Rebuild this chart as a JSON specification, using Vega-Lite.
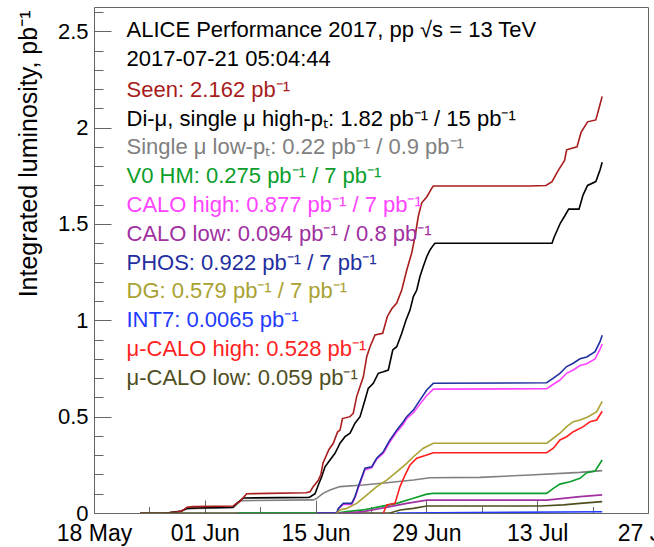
{
  "$schema": "https://vega.github.io/schema/vega-lite/v6.json",
  "width": 554,
  "height": 506,
  "autosize": "none",
  "padding": {"left": 94, "top": 7, "right": 6, "bottom": 34},
  "background": "white",
  "config": {
    "font": "Liberation Sans",
    "view": {"stroke": "#666666", "strokeWidth": 1},
    "axis": {"grid": false, "domain": false, "tickColor": "#666666", "tickWidth": 1, "labelFont": "Liberation Sans", "labelColor": "black", "titleFont": "Liberation Sans", "titleColor": "black", "titleFontWeight": "normal"}
  },
  "data": {"values": [
    {"s":"smu","t":"2017-05-27T04:30Z","v":0},
    {"s":"smu","t":"2017-05-29T02:00Z","v":0.01},
    {"s":"smu","t":"2017-05-29T18:00Z","v":0.022},
    {"s":"smu","t":"2017-05-30T23:30Z","v":0.024},
    {"s":"smu","t":"2017-06-04T13:30Z","v":0.028},
    {"s":"smu","t":"2017-06-05T00:45Z","v":0.045},
    {"s":"smu","t":"2017-06-05T13:45Z","v":0.064},
    {"s":"smu","t":"2017-06-14T17:00Z","v":0.068},
    {"s":"smu","t":"2017-06-15T03:30Z","v":0.076},
    {"s":"smu","t":"2017-06-15T22:30Z","v":0.102},
    {"s":"smu","t":"2017-06-16T19:45Z","v":0.119},
    {"s":"smu","t":"2017-06-18T02:00Z","v":0.137},
    {"s":"smu","t":"2017-06-21T00:45Z","v":0.145},
    {"s":"smu","t":"2017-06-23T23:45Z","v":0.157},
    {"s":"smu","t":"2017-06-27T08:30Z","v":0.171},
    {"s":"smu","t":"2017-06-29T11:00Z","v":0.183},
    {"s":"smu","t":"2017-07-05T18:30Z","v":0.185},
    {"s":"smu","t":"2017-07-12T02:15Z","v":0.197},
    {"s":"smu","t":"2017-07-18T09:45Z","v":0.211},
    {"s":"smu","t":"2017-07-21T05:04Z","v":0.22},

    {"s":"dimu","t":"2017-05-27T04:30Z","v":0},
    {"s":"dimu","t":"2017-05-29T02:00Z","v":0.01},
    {"s":"dimu","t":"2017-05-29T18:00Z","v":0.024},
    {"s":"dimu","t":"2017-05-30T23:30Z","v":0.026},
    {"s":"dimu","t":"2017-06-04T13:30Z","v":0.03},
    {"s":"dimu","t":"2017-06-05T00:45Z","v":0.05},
    {"s":"dimu","t":"2017-06-05T21:00Z","v":0.078},
    {"s":"dimu","t":"2017-06-14T02:00Z","v":0.081},
    {"s":"dimu","t":"2017-06-14T07:00Z","v":0.083},
    {"s":"dimu","t":"2017-06-14T22:15Z","v":0.1},
    {"s":"dimu","t":"2017-06-15T08:15Z","v":0.145},
    {"s":"dimu","t":"2017-06-15T18:30Z","v":0.188},
    {"s":"dimu","t":"2017-06-16T04:30Z","v":0.24},
    {"s":"dimu","t":"2017-06-16T19:45Z","v":0.275},
    {"s":"dimu","t":"2017-06-17T10:45Z","v":0.31},
    {"s":"dimu","t":"2017-06-17T16:00Z","v":0.327},
    {"s":"dimu","t":"2017-06-18T02:00Z","v":0.362},
    {"s":"dimu","t":"2017-06-18T17:15Z","v":0.396},
    {"s":"dimu","t":"2017-06-19T08:30Z","v":0.414},
    {"s":"dimu","t":"2017-06-19T23:30Z","v":0.466},
    {"s":"dimu","t":"2017-06-20T14:45Z","v":0.5},
    {"s":"dimu","t":"2017-06-21T05:45Z","v":0.586},
    {"s":"dimu","t":"2017-06-21T15:45Z","v":0.647},
    {"s":"dimu","t":"2017-06-22T07:00Z","v":0.673},
    {"s":"dimu","t":"2017-06-22T22:00Z","v":0.725},
    {"s":"dimu","t":"2017-06-23T13:30Z","v":0.733},
    {"s":"dimu","t":"2017-06-24T04:30Z","v":0.742},
    {"s":"dimu","t":"2017-06-24T18:00Z","v":0.846},
    {"s":"dimu","t":"2017-06-25T06:00Z","v":0.863},
    {"s":"dimu","t":"2017-06-25T21:15Z","v":0.933},
    {"s":"dimu","t":"2017-06-26T10:00Z","v":1.0},
    {"s":"dimu","t":"2017-06-26T22:15Z","v":1.053},
    {"s":"dimu","t":"2017-06-27T08:30Z","v":1.123},
    {"s":"dimu","t":"2017-06-27T18:45Z","v":1.157},
    {"s":"dimu","t":"2017-06-28T04:30Z","v":1.227},
    {"s":"dimu","t":"2017-06-28T14:45Z","v":1.28},
    {"s":"dimu","t":"2017-06-29T01:00Z","v":1.33},
    {"s":"dimu","t":"2017-06-29T11:00Z","v":1.365},
    {"s":"dimu","t":"2017-06-29T21:00Z","v":1.39},
    {"s":"dimu","t":"2017-06-30T02:00Z","v":1.4},
    {"s":"dimu","t":"2017-07-14T21:00Z","v":1.4},
    {"s":"dimu","t":"2017-07-15T03:00Z","v":1.43},
    {"s":"dimu","t":"2017-07-15T22:20Z","v":1.505},
    {"s":"dimu","t":"2017-07-16T11:00Z","v":1.54},
    {"s":"dimu","t":"2017-07-16T23:30Z","v":1.577},
    {"s":"dimu","t":"2017-07-18T06:45Z","v":1.577},
    {"s":"dimu","t":"2017-07-18T19:00Z","v":1.65},
    {"s":"dimu","t":"2017-07-19T08:45Z","v":1.7},
    {"s":"dimu","t":"2017-07-20T09:45Z","v":1.72},
    {"s":"dimu","t":"2017-07-20T22:30Z","v":1.78},
    {"s":"dimu","t":"2017-07-21T05:04Z","v":1.82},

    {"s":"seen","t":"2017-05-23T19:30Z","v":0},
    {"s":"seen","t":"2017-05-27T04:30Z","v":0},
    {"s":"seen","t":"2017-05-28T21:00Z","v":0.008},
    {"s":"seen","t":"2017-05-29T06:45Z","v":0.015},
    {"s":"seen","t":"2017-05-29T18:00Z","v":0.03},
    {"s":"seen","t":"2017-05-30T12:15Z","v":0.033},
    {"s":"seen","t":"2017-06-04T13:30Z","v":0.036},
    {"s":"seen","t":"2017-06-05T00:45Z","v":0.05},
    {"s":"seen","t":"2017-06-05T10:45Z","v":0.06},
    {"s":"seen","t":"2017-06-06T07:00Z","v":0.1},
    {"s":"seen","t":"2017-06-13T19:00Z","v":0.105},
    {"s":"seen","t":"2017-06-14T07:00Z","v":0.11},
    {"s":"seen","t":"2017-06-14T16:00Z","v":0.135},
    {"s":"seen","t":"2017-06-15T08:15Z","v":0.17},
    {"s":"seen","t":"2017-06-15T16:00Z","v":0.2},
    {"s":"seen","t":"2017-06-15T22:30Z","v":0.26},
    {"s":"seen","t":"2017-06-16T16:30Z","v":0.33},
    {"s":"seen","t":"2017-06-17T05:45Z","v":0.362},
    {"s":"seen","t":"2017-06-17T18:30Z","v":0.42},
    {"s":"seen","t":"2017-06-18T02:00Z","v":0.43},
    {"s":"seen","t":"2017-06-18T09:30Z","v":0.49},
    {"s":"seen","t":"2017-06-19T08:30Z","v":0.5},
    {"s":"seen","t":"2017-06-19T18:15Z","v":0.518},
    {"s":"seen","t":"2017-06-20T04:30Z","v":0.604},
    {"s":"seen","t":"2017-06-20T14:45Z","v":0.656},
    {"s":"seen","t":"2017-06-21T00:45Z","v":0.707},
    {"s":"seen","t":"2017-06-21T11:00Z","v":0.811},
    {"s":"seen","t":"2017-06-21T21:00Z","v":0.863},
    {"s":"seen","t":"2017-06-22T12:15Z","v":0.924},
    {"s":"seen","t":"2017-06-23T11:30Z","v":0.933},
    {"s":"seen","t":"2017-06-24T01:30Z","v":1.02},
    {"s":"seen","t":"2017-06-24T15:00Z","v":1.06},
    {"s":"seen","t":"2017-06-25T06:00Z","v":1.09},
    {"s":"seen","t":"2017-06-25T21:15Z","v":1.157},
    {"s":"seen","t":"2017-06-26T12:15Z","v":1.26},
    {"s":"seen","t":"2017-06-27T03:30Z","v":1.35},
    {"s":"seen","t":"2017-06-27T13:30Z","v":1.435},
    {"s":"seen","t":"2017-06-27T23:30Z","v":1.54},
    {"s":"seen","t":"2017-06-28T09:45Z","v":1.61},
    {"s":"seen","t":"2017-06-29T01:00Z","v":1.64},
    {"s":"seen","t":"2017-06-29T16:00Z","v":1.685},
    {"s":"seen","t":"2017-06-29T21:00Z","v":1.697},
    {"s":"seen","t":"2017-07-11T23:15Z","v":1.697},
    {"s":"seen","t":"2017-07-14T02:45Z","v":1.7},
    {"s":"seen","t":"2017-07-14T21:00Z","v":1.72},
    {"s":"seen","t":"2017-07-15T15:00Z","v":1.776},
    {"s":"seen","t":"2017-07-16T11:00Z","v":1.83},
    {"s":"seen","t":"2017-07-16T17:15Z","v":1.885},
    {"s":"seen","t":"2017-07-18T00:45Z","v":1.9},
    {"s":"seen","t":"2017-07-18T13:00Z","v":1.975},
    {"s":"seen","t":"2017-07-19T08:45Z","v":2.03},
    {"s":"seen","t":"2017-07-20T09:45Z","v":2.04},
    {"s":"seen","t":"2017-07-20T22:30Z","v":2.12},
    {"s":"seen","t":"2017-07-21T05:04Z","v":2.162},

    {"s":"mucalol","t":"2017-05-23T19:30Z","v":0},
    {"s":"mucalol","t":"2017-06-24T09:30Z","v":0},
    {"s":"mucalol","t":"2017-06-25T16:00Z","v":0.016},
    {"s":"mucalol","t":"2017-06-27T08:30Z","v":0.024},
    {"s":"mucalol","t":"2017-06-29T01:00Z","v":0.036},
    {"s":"mucalol","t":"2017-07-13T08:30Z","v":0.036},
    {"s":"mucalol","t":"2017-07-16T07:15Z","v":0.042},
    {"s":"mucalol","t":"2017-07-18T09:45Z","v":0.05},
    {"s":"mucalol","t":"2017-07-21T05:04Z","v":0.059},

    {"s":"v0hm","t":"2017-06-05T04:45Z","v":0},
    {"s":"v0hm","t":"2017-06-17T16:00Z","v":0},
    {"s":"v0hm","t":"2017-06-18T22:15Z","v":0.007},
    {"s":"v0hm","t":"2017-06-21T00:45Z","v":0.016},
    {"s":"v0hm","t":"2017-06-23T03:15Z","v":0.033},
    {"s":"v0hm","t":"2017-06-25T06:00Z","v":0.05},
    {"s":"v0hm","t":"2017-06-27T08:30Z","v":0.076},
    {"s":"v0hm","t":"2017-06-29T01:00Z","v":0.098},
    {"s":"v0hm","t":"2017-06-29T21:00Z","v":0.102},
    {"s":"v0hm","t":"2017-07-14T04:45Z","v":0.102},
    {"s":"v0hm","t":"2017-07-15T01:00Z","v":0.128},
    {"s":"v0hm","t":"2017-07-15T21:00Z","v":0.15},
    {"s":"v0hm","t":"2017-07-17T03:30Z","v":0.162},
    {"s":"v0hm","t":"2017-07-18T09:45Z","v":0.18},
    {"s":"v0hm","t":"2017-07-19T06:15Z","v":0.209},
    {"s":"v0hm","t":"2017-07-20T07:30Z","v":0.218},
    {"s":"v0hm","t":"2017-07-21T05:04Z","v":0.275},

    {"s":"calol","t":"2017-06-15T03:30Z","v":0},
    {"s":"calol","t":"2017-06-18T22:15Z","v":0},
    {"s":"calol","t":"2017-06-21T00:45Z","v":0.007},
    {"s":"calol","t":"2017-06-24T09:30Z","v":0.033},
    {"s":"calol","t":"2017-06-26T12:15Z","v":0.05},
    {"s":"calol","t":"2017-06-29T01:00Z","v":0.067},
    {"s":"calol","t":"2017-07-14T04:45Z","v":0.067},
    {"s":"calol","t":"2017-07-16T07:15Z","v":0.076},
    {"s":"calol","t":"2017-07-18T09:45Z","v":0.085},
    {"s":"calol","t":"2017-07-21T05:04Z","v":0.094},

    {"s":"caloh","t":"2017-06-15T03:30Z","v":0},
    {"s":"caloh","t":"2017-06-17T16:00Z","v":0},
    {"s":"caloh","t":"2017-06-17T21:00Z","v":0.02},
    {"s":"caloh","t":"2017-06-18T12:00Z","v":0.045},
    {"s":"caloh","t":"2017-06-19T13:30Z","v":0.045},
    {"s":"caloh","t":"2017-06-19T23:30Z","v":0.08},
    {"s":"caloh","t":"2017-06-20T09:30Z","v":0.13},
    {"s":"caloh","t":"2017-06-21T05:45Z","v":0.225},
    {"s":"caloh","t":"2017-06-22T02:15Z","v":0.235},
    {"s":"caloh","t":"2017-06-22T17:15Z","v":0.28},
    {"s":"caloh","t":"2017-06-23T13:30Z","v":0.31},
    {"s":"caloh","t":"2017-06-24T09:30Z","v":0.37},
    {"s":"caloh","t":"2017-06-25T06:00Z","v":0.42},
    {"s":"caloh","t":"2017-06-26T02:00Z","v":0.46},
    {"s":"caloh","t":"2017-06-26T12:15Z","v":0.49},
    {"s":"caloh","t":"2017-06-27T08:30Z","v":0.52},
    {"s":"caloh","t":"2017-06-28T04:30Z","v":0.565},
    {"s":"caloh","t":"2017-06-29T01:00Z","v":0.61},
    {"s":"caloh","t":"2017-06-29T21:00Z","v":0.643},
    {"s":"caloh","t":"2017-07-14T04:45Z","v":0.645},
    {"s":"caloh","t":"2017-07-15T01:00Z","v":0.668},
    {"s":"caloh","t":"2017-07-15T21:00Z","v":0.69},
    {"s":"caloh","t":"2017-07-16T17:15Z","v":0.725},
    {"s":"caloh","t":"2017-07-17T13:30Z","v":0.742},
    {"s":"caloh","t":"2017-07-18T09:45Z","v":0.765},
    {"s":"caloh","t":"2017-07-19T06:15Z","v":0.775},
    {"s":"caloh","t":"2017-07-20T07:30Z","v":0.8},
    {"s":"caloh","t":"2017-07-20T22:30Z","v":0.85},
    {"s":"caloh","t":"2017-07-21T05:04Z","v":0.877},

    {"s":"phos","t":"2017-06-15T03:30Z","v":0},
    {"s":"phos","t":"2017-06-17T16:00Z","v":0},
    {"s":"phos","t":"2017-06-17T21:00Z","v":0.024},
    {"s":"phos","t":"2017-06-18T12:00Z","v":0.05},
    {"s":"phos","t":"2017-06-19T13:30Z","v":0.05},
    {"s":"phos","t":"2017-06-19T23:30Z","v":0.085},
    {"s":"phos","t":"2017-06-20T09:30Z","v":0.137},
    {"s":"phos","t":"2017-06-21T05:45Z","v":0.232},
    {"s":"phos","t":"2017-06-22T02:15Z","v":0.24},
    {"s":"phos","t":"2017-06-22T17:15Z","v":0.284},
    {"s":"phos","t":"2017-06-23T13:30Z","v":0.318},
    {"s":"phos","t":"2017-06-24T09:30Z","v":0.379},
    {"s":"phos","t":"2017-06-25T06:00Z","v":0.43},
    {"s":"phos","t":"2017-06-26T02:00Z","v":0.474},
    {"s":"phos","t":"2017-06-26T12:15Z","v":0.5},
    {"s":"phos","t":"2017-06-27T08:30Z","v":0.534},
    {"s":"phos","t":"2017-06-28T04:30Z","v":0.586},
    {"s":"phos","t":"2017-06-29T01:00Z","v":0.638},
    {"s":"phos","t":"2017-06-29T21:00Z","v":0.673},
    {"s":"phos","t":"2017-07-14T04:45Z","v":0.676},
    {"s":"phos","t":"2017-07-15T01:00Z","v":0.7},
    {"s":"phos","t":"2017-07-15T21:00Z","v":0.725},
    {"s":"phos","t":"2017-07-16T17:15Z","v":0.76},
    {"s":"phos","t":"2017-07-17T13:30Z","v":0.777},
    {"s":"phos","t":"2017-07-18T09:45Z","v":0.8},
    {"s":"phos","t":"2017-07-19T06:15Z","v":0.81},
    {"s":"phos","t":"2017-07-20T07:30Z","v":0.837},
    {"s":"phos","t":"2017-07-20T22:30Z","v":0.889},
    {"s":"phos","t":"2017-07-21T05:04Z","v":0.922},

    {"s":"dg","t":"2017-06-17T16:00Z","v":0},
    {"s":"dg","t":"2017-06-18T02:00Z","v":0.016},
    {"s":"dg","t":"2017-06-18T22:15Z","v":0.024},
    {"s":"dg","t":"2017-06-20T04:30Z","v":0.05},
    {"s":"dg","t":"2017-06-21T11:00Z","v":0.093},
    {"s":"dg","t":"2017-06-22T17:15Z","v":0.137},
    {"s":"dg","t":"2017-06-23T23:45Z","v":0.171},
    {"s":"dg","t":"2017-06-25T06:00Z","v":0.214},
    {"s":"dg","t":"2017-06-26T12:15Z","v":0.258},
    {"s":"dg","t":"2017-06-27T08:30Z","v":0.292},
    {"s":"dg","t":"2017-06-28T14:45Z","v":0.336},
    {"s":"dg","t":"2017-06-29T21:00Z","v":0.362},
    {"s":"dg","t":"2017-07-14T04:45Z","v":0.362},
    {"s":"dg","t":"2017-07-15T01:00Z","v":0.388},
    {"s":"dg","t":"2017-07-15T21:00Z","v":0.414},
    {"s":"dg","t":"2017-07-16T17:15Z","v":0.448},
    {"s":"dg","t":"2017-07-17T13:30Z","v":0.474},
    {"s":"dg","t":"2017-07-18T09:45Z","v":0.483},
    {"s":"dg","t":"2017-07-19T11:00Z","v":0.5},
    {"s":"dg","t":"2017-07-20T12:30Z","v":0.526},
    {"s":"dg","t":"2017-07-21T05:04Z","v":0.579},

    {"s":"mucaloh","t":"2017-06-23T13:30Z","v":0},
    {"s":"mucaloh","t":"2017-06-23T23:45Z","v":0.042},
    {"s":"mucaloh","t":"2017-06-25T00:45Z","v":0.05},
    {"s":"mucaloh","t":"2017-06-25T16:00Z","v":0.137},
    {"s":"mucaloh","t":"2017-06-26T07:15Z","v":0.197},
    {"s":"mucaloh","t":"2017-06-26T22:15Z","v":0.249},
    {"s":"mucaloh","t":"2017-06-27T18:45Z","v":0.284},
    {"s":"mucaloh","t":"2017-06-29T01:00Z","v":0.301},
    {"s":"mucaloh","t":"2017-06-29T21:00Z","v":0.313},
    {"s":"mucaloh","t":"2017-07-14T04:45Z","v":0.313},
    {"s":"mucaloh","t":"2017-07-15T01:00Z","v":0.336},
    {"s":"mucaloh","t":"2017-07-15T21:00Z","v":0.379},
    {"s":"mucaloh","t":"2017-07-16T17:15Z","v":0.396},
    {"s":"mucaloh","t":"2017-07-17T13:30Z","v":0.422},
    {"s":"mucaloh","t":"2017-07-18T20:00Z","v":0.448},
    {"s":"mucaloh","t":"2017-07-19T16:15Z","v":0.474},
    {"s":"mucaloh","t":"2017-07-20T12:30Z","v":0.483},
    {"s":"mucaloh","t":"2017-07-21T05:04Z","v":0.528},

    {"s":"int7","t":"2017-06-25T06:00Z","v":0},
    {"s":"int7","t":"2017-07-21T05:04Z","v":0.0065}
  ]},
  "resolve": {"axis": {"x": "independent", "y": "independent"}},
  "layer": [
    {
      "mark": {"type": "line", "strokeWidth": 1.6, "clip": true},
      "encoding": {
        "x": {
          "field": "t", "type": "temporal",
          "scale": {"type": "utc", "domain": [{"year": 2017, "month": "may", "date": 18, "utc": true}, {"year": 2017, "month": "jul", "date": 27, "utc": true}], "nice": false},
          "axis": {
            "orient": "bottom", "title": null, "format": "%d %b",
            "values": [
              {"year": 2017, "month": "may", "date": 18, "utc": true},
              {"year": 2017, "month": "jun", "date": 1, "utc": true},
              {"year": 2017, "month": "jun", "date": 15, "utc": true},
              {"year": 2017, "month": "jun", "date": 29, "utc": true},
              {"year": 2017, "month": "jul", "date": 13, "utc": true},
              {"year": 2017, "month": "jul", "date": 27, "utc": true}
            ],
            "tickSize": -13, "labelPadding": 22, "labelFontSize": 23, "labelBaseline": "top",
            "labelFlush": false, "labelOverlap": false, "labelBound": false
          }
        },
        "y": {
          "field": "v", "type": "quantitative",
          "scale": {"domain": [0, 2.626], "nice": false, "zero": false},
          "axis": {
            "orient": "left", "values": [0, 0.5, 1, 1.5, 2, 2.5], "format": "~g",
            "tickSize": -17, "labelPadding": 23, "labelFontSize": 22, "labelBaseline": "middle",
            "labelOverlap": false, "labelFlush": false,
            "title": "Integrated luminosity, pb⁻¹", "titleFontSize": 25, "titleAngle": 270,
            "titleAlign": "right", "titleBaseline": "alphabetic", "titleX": -58, "titleY": 3
          }
        },
        "color": {
          "field": "s", "type": "nominal",
          "scale": {
            "domain": ["seen", "dimu", "smu", "v0hm", "caloh", "calol", "phos", "dg", "int7", "mucaloh", "mucalol"],
            "range": ["#a81c1c", "#000000", "#808080", "#0b9e2c", "#ff44ff", "#a030a0", "#1f2f9f", "#a9a233", "#1f3cff", "#ff1f1f", "#4e4e1e"]
          },
          "legend": {
            "orient": "none", "legendX": 32.5, "legendY": 13, "padding": 0,
            "title": ["ALICE Performance 2017, pp √s = 13 TeV", "2017-07-21 05:04:44"],
            "titleFont": "Liberation Sans", "titleFontSize": 22, "titleFontWeight": "normal", "titleColor": "black",
            "titleLineHeight": 29.3, "titlePadding": 7.5, "titleLimit": 1000, "titleBaseline": "top",
            "labelFont": "Liberation Sans", "labelFontSize": 22, "labelLimit": 1000, "labelOffset": -22,
            "symbolSize": 0, "symbolOpacity": 0, "symbolStrokeWidth": 0, "symbolType": "circle",
            "rowPadding": 6.8,
            "labelExpr": "['Seen: 2.162 pb⁻¹','Di-μ, single μ high-pₜ: 1.82 pb⁻¹ / 15 pb⁻¹','Single μ low-pₜ: 0.22 pb⁻¹ / 0.9 pb⁻¹','V0 HM: 0.275 pb⁻¹ / 7 pb⁻¹','CALO high: 0.877 pb⁻¹ / 7 pb⁻¹','CALO low: 0.094 pb⁻¹ / 0.8 pb⁻¹','PHOS: 0.922 pb⁻¹ / 7 pb⁻¹','DG: 0.579 pb⁻¹ / 7 pb⁻¹','INT7: 0.0065 pb⁻¹','μ-CALO high: 0.528 pb⁻¹','μ-CALO low: 0.059 pb⁻¹'][indexof(['seen','dimu','smu','v0hm','caloh','calol','phos','dg','int7','mucaloh','mucalol'], datum.value)]",
            "encode": {"labels": {"update": {"fill": {"scale": "color", "field": "value"}}}}
          }
        }
      }
    },
    {
      "mark": {"type": "point", "opacity": 0, "size": 0},
      "encoding": {
        "x": {
          "field": "t", "type": "temporal",
          "axis": {
            "orient": "bottom", "title": null, "labels": false, "tickSize": -6.5,
            "values": [
              {"year": 2017, "month": "may", "date": 18, "utc": true},
              {"year": 2017, "month": "may", "date": 25, "utc": true},
              {"year": 2017, "month": "jun", "date": 1, "utc": true},
              {"year": 2017, "month": "jun", "date": 8, "utc": true},
              {"year": 2017, "month": "jun", "date": 15, "utc": true},
              {"year": 2017, "month": "jun", "date": 22, "utc": true},
              {"year": 2017, "month": "jun", "date": 29, "utc": true},
              {"year": 2017, "month": "jul", "date": 6, "utc": true},
              {"year": 2017, "month": "jul", "date": 13, "utc": true},
              {"year": 2017, "month": "jul", "date": 20, "utc": true}
            ]
          }
        },
        "y": {
          "field": "v", "type": "quantitative",
          "axis": {
            "orient": "left", "title": null, "labels": false, "tickSize": -9,
            "values": [0.1, 0.2, 0.3, 0.4, 0.6, 0.7, 0.8, 0.9, 1.1, 1.2, 1.3, 1.4, 1.6, 1.7, 1.8, 1.9, 2.1, 2.2, 2.3, 2.4, 2.6]
          }
        }
      }
    }
  ]
}
